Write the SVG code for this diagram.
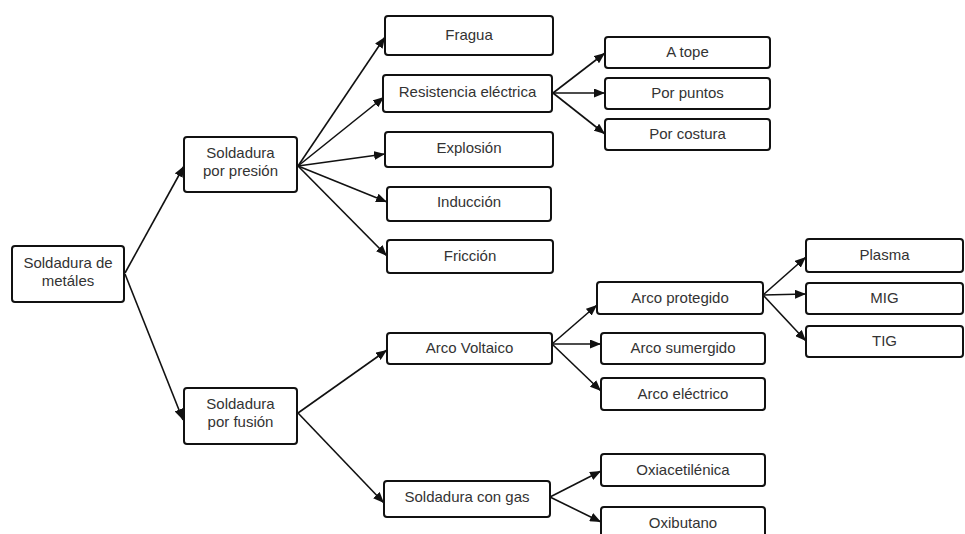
<svg xmlns="http://www.w3.org/2000/svg" width="965" height="534" viewBox="0 0 965 534">
<defs>
<style>
.box{fill:#fff;stroke:#111;stroke-width:2}
.t{font-family:"Liberation Sans",Arial,sans-serif;font-size:15px;fill:#333;text-anchor:middle}
.c{stroke:#111;stroke-width:1.6;fill:none;marker-end:url(#ah)}
</style>
<marker id="ah" markerUnits="userSpaceOnUse" markerWidth="11" markerHeight="9" refX="11" refY="4.5" orient="auto">
<path d="M0,0 L11,4.5 L0,9 z" fill="#111"/>
</marker>
</defs>
<rect width="965" height="534" fill="#fff"/>
<g id="connectors">
<line class="c" x1="125" y1="273" x2="184" y2="166"/>
<line class="c" x1="125" y1="274" x2="183" y2="420"/>
<line class="c" x1="298" y1="166" x2="385" y2="37"/>
<line class="c" x1="298" y1="166" x2="384" y2="97"/>
<line class="c" x1="298" y1="166" x2="385" y2="154"/>
<line class="c" x1="298" y1="166" x2="387" y2="202"/>
<line class="c" x1="298" y1="166" x2="387" y2="256"/>
<line class="c" x1="553" y1="93" x2="605" y2="53"/>
<line class="c" x1="553" y1="93" x2="605" y2="93"/>
<line class="c" x1="553" y1="93" x2="605" y2="134"/>
<line class="c" x1="298" y1="413" x2="387" y2="350"/>
<line class="c" x1="298" y1="413" x2="384" y2="503"/>
<line class="c" x1="552" y1="344" x2="597" y2="305"/>
<line class="c" x1="552" y1="344" x2="601" y2="344"/>
<line class="c" x1="552" y1="344" x2="601" y2="391"/>
<line class="c" x1="763" y1="295" x2="806" y2="257"/>
<line class="c" x1="763" y1="295" x2="806" y2="294"/>
<line class="c" x1="763" y1="295" x2="806" y2="341"/>
<line class="c" x1="550" y1="497" x2="601" y2="471"/>
<line class="c" x1="550" y1="497" x2="601" y2="522"/>
</g>
<g id="n-metales"><rect class="box" x="12" y="246" width="112" height="56" rx="3"/><text class="t" x="68" y="268">Soldadura de</text><text class="t" x="68" y="286">metáles</text></g>
<g id="n-presion"><rect class="box" x="184" y="137" width="113" height="55" rx="3"/><text class="t" x="240.5" y="158">Soldadura</text><text class="t" x="240.5" y="176">por presión</text></g>
<g id="n-fusion"><rect class="box" x="184" y="388" width="113" height="56" rx="3"/><text class="t" x="240.5" y="409">Soldadura</text><text class="t" x="240.5" y="427">por fusión</text></g>
<g id="n-fragua"><rect class="box" x="385" y="16" width="168" height="39" rx="3"/><text class="t" x="469" y="40">Fragua</text></g>
<g id="n-resistencia"><rect class="box" x="383" y="75" width="169" height="37" rx="3"/><text class="t" x="467.5" y="97">Resistencia eléctrica</text></g>
<g id="n-explosion"><rect class="box" x="385" y="132" width="168" height="35" rx="3"/><text class="t" x="469" y="153">Explosión</text></g>
<g id="n-induccion"><rect class="box" x="387" y="187" width="164" height="34" rx="3"/><text class="t" x="469" y="207">Inducción</text></g>
<g id="n-friccion"><rect class="box" x="387" y="240" width="166" height="33" rx="3"/><text class="t" x="470" y="261">Fricción</text></g>
<g id="n-atope"><rect class="box" x="605" y="37" width="165" height="31" rx="3"/><text class="t" x="687.5" y="57">A tope</text></g>
<g id="n-porpuntos"><rect class="box" x="605" y="78" width="165" height="31" rx="3"/><text class="t" x="687.5" y="98">Por puntos</text></g>
<g id="n-porcostura"><rect class="box" x="605" y="119" width="165" height="31" rx="3"/><text class="t" x="687.5" y="139">Por costura</text></g>
<g id="n-arcovoltaico"><rect class="box" x="387" y="333" width="165" height="31" rx="3"/><text class="t" x="469.5" y="353">Arco Voltaico</text></g>
<g id="n-congas"><rect class="box" x="384" y="481" width="166" height="36" rx="3"/><text class="t" x="467" y="502">Soldadura con gas</text></g>
<g id="n-arcoprotegido"><rect class="box" x="597" y="282" width="166" height="32" rx="3"/><text class="t" x="680" y="303">Arco protegido</text></g>
<g id="n-arcosumergido"><rect class="box" x="601" y="333" width="164" height="31" rx="3"/><text class="t" x="683" y="353">Arco sumergido</text></g>
<g id="n-arcoelectrico"><rect class="box" x="601" y="378" width="164" height="32" rx="3"/><text class="t" x="683" y="399">Arco eléctrico</text></g>
<g id="n-oxiacetilenica"><rect class="box" x="601" y="454" width="164" height="32" rx="3"/><text class="t" x="683" y="475">Oxiacetilénica</text></g>
<g id="n-oxibutano"><rect class="box" x="601" y="507" width="164" height="34" rx="3"/><text class="t" x="683" y="528">Oxibutano</text></g>
<g id="n-plasma"><rect class="box" x="806" y="239" width="157" height="33" rx="3"/><text class="t" x="884.5" y="260">Plasma</text></g>
<g id="n-mig"><rect class="box" x="806" y="283" width="157" height="31" rx="3"/><text class="t" x="884.5" y="303">MIG</text></g>
<g id="n-tig"><rect class="box" x="806" y="326" width="157" height="31" rx="3"/><text class="t" x="884.5" y="346">TIG</text></g>
</svg>
